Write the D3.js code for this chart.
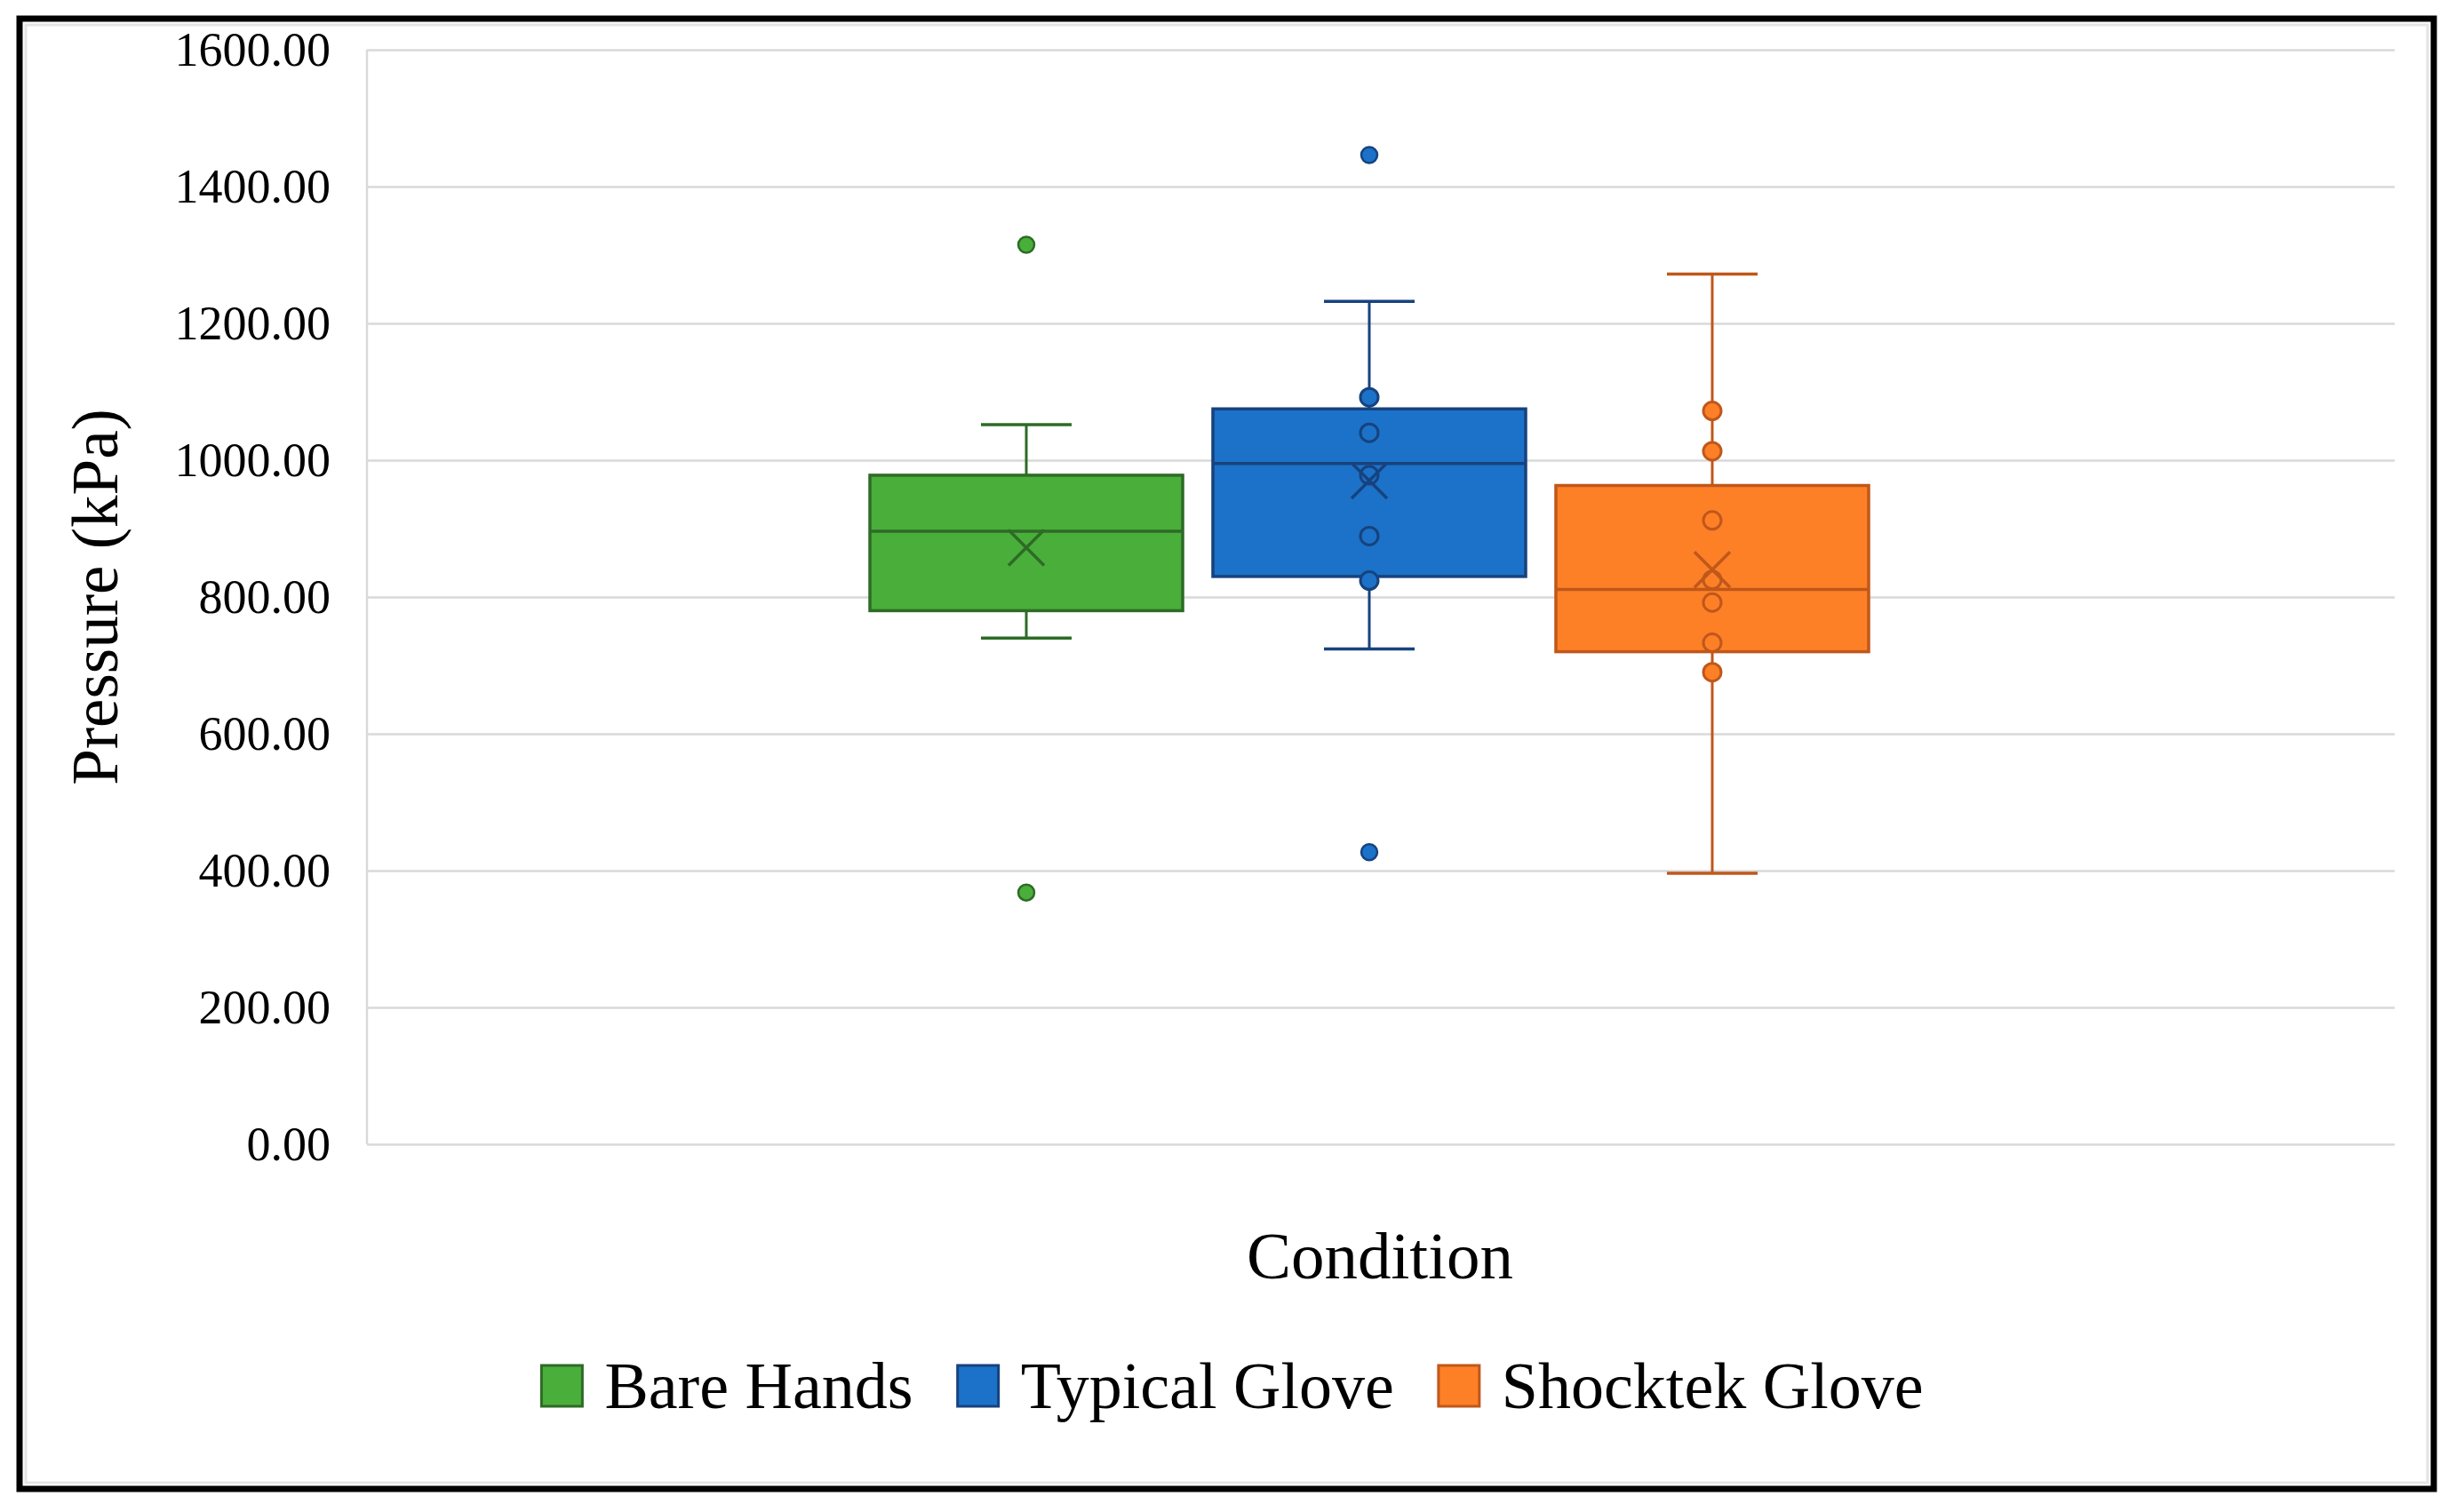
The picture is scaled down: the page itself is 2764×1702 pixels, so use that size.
<!DOCTYPE html>
<html lang="en">
<head>
<meta charset="utf-8">
<title>Pressure by Condition</title>
<script src="https://d3js.org/d3.v7.min.js"></script>
<style>
  body { margin: 0; background: #fff; }
  text { font-family: "Liberation Serif", "Times New Roman", serif; fill: #000; }
</style>
</head>
<body>
<div id="chart"></div>
<script>
// values (kPa)
var series = ["Bare Hands", "Typical Glove", "Shocktek Glove"];
var whiskerLow  = [740, 724, 396];
var q1          = [780, 830, 720];
var median      = [896, 995, 811];
var q3          = [978, 1075, 963];
var whiskerHigh = [1052, 1232, 1272];
var means       = [872, 970, 840];
var outliers    = [[1315, 368], [1446, 427], []];
var innerPoints = [[], [1092, 1040, 978, 889, 824], [1072, 1013, 912, 825, 792, 733, 690]];
var yTicks = [0, 200, 400, 600, 800, 1000, 1200, 1400, 1600];

var fills   = ["#4aae3b", "#1b72c8", "#fd8027"];
var darks   = ["#2d6b26", "#17427e", "#c0571a"];

var W = 2764, H = 1702;
var plot = {left: 413, right: 2695, top: 56, bottom: 1288};

var svg = d3.select("#chart").append("svg")
  .attr("width", W).attr("height", H);

svg.append("rect").attr("width", W).attr("height", H).attr("fill", "#fff");

// frame
svg.append("rect")
  .attr("x", 29).attr("y", 28).attr("width", 2703).attr("height", 1641)
  .attr("fill", "none").attr("stroke", "#e4e4e4").attr("stroke-width", 3);
svg.append("rect")
  .attr("x", 22).attr("y", 21).attr("width", 2717).attr("height", 1655)
  .attr("fill", "none").attr("stroke", "#000").attr("stroke-width", 7);

var y = d3.scaleLinear().domain([0, 1600]).range([plot.bottom, plot.top]);

// series sit side by side in the single category
var x = d3.scaleBand().domain(series).range([979, 2103]).paddingInner(0.088);

// y axis with gridlines
var yAxis = svg.append("g")
  .attr("transform", "translate(" + plot.left + ",0)")
  .call(d3.axisLeft(y).tickValues(yTicks).tickFormat(d3.format(".2f"))
    .tickSize(-(plot.right - plot.left)).tickPadding(41));
yAxis.select(".domain").attr("stroke", "#d9d9d9").attr("stroke-width", 2.5)
  .attr("d", "M0," + plot.top + "V" + plot.bottom);
yAxis.selectAll(".tick line").attr("stroke", "#d9d9d9").attr("stroke-width", 2.5);
yAxis.selectAll(".tick text")
  .style("font-family", "'Liberation Serif', serif")
  .style("font-size", "54px").attr("fill", "#000");

// axis titles
svg.append("text")
  .attr("transform", "translate(106," + ((plot.top + plot.bottom) / 2) + ") rotate(-90)")
  .attr("text-anchor", "middle").attr("dy", "0.35em")
  .style("font-size", "73px")
  .text("Pressure (kPa)");

svg.append("text")
  .attr("x", 1553).attr("y", 1439)
  .attr("text-anchor", "middle")
  .style("font-size", "75px")
  .text("Condition");

// boxes
var capHalf = 51;
series.forEach(function (s, i) {
  var g = svg.append("g");
  var cx = x(s) + x.bandwidth() / 2;

  // whiskers
  g.append("line").attr("x1", cx).attr("x2", cx)
    .attr("y1", y(q3[i])).attr("y2", y(whiskerHigh[i]))
    .attr("stroke", darks[i]).attr("stroke-width", 3);
  g.append("line").attr("x1", cx).attr("x2", cx)
    .attr("y1", y(q1[i])).attr("y2", y(whiskerLow[i]))
    .attr("stroke", darks[i]).attr("stroke-width", 3);
  [whiskerHigh[i], whiskerLow[i]].forEach(function (v) {
    g.append("line").attr("x1", cx - capHalf).attr("x2", cx + capHalf)
      .attr("y1", y(v)).attr("y2", y(v))
      .attr("stroke", darks[i]).attr("stroke-width", 3.5);
  });

  // box
  g.append("rect")
    .attr("x", x(s)).attr("width", x.bandwidth())
    .attr("y", y(q3[i])).attr("height", y(q1[i]) - y(q3[i]))
    .attr("fill", fills[i]).attr("stroke", darks[i]).attr("stroke-width", 3.5);
  g.append("line").attr("x1", x(s)).attr("x2", x(s) + x.bandwidth())
    .attr("y1", y(median[i])).attr("y2", y(median[i]))
    .attr("stroke", darks[i]).attr("stroke-width", 3.5);

  // inner points
  g.selectAll("circle.inner").data(innerPoints[i]).enter().append("circle")
    .attr("class", "inner")
    .attr("cx", cx).attr("cy", function (d) { return y(d); })
    .attr("r", 10)
    .attr("fill", fills[i]).attr("stroke", darks[i]).attr("stroke-width", 3);

  // outliers
  g.selectAll("circle.out").data(outliers[i]).enter().append("circle")
    .attr("class", "out")
    .attr("cx", cx).attr("cy", function (d) { return y(d); })
    .attr("r", 9)
    .attr("fill", fills[i]).attr("stroke", darks[i]).attr("stroke-width", 2.5);

  // mean marker
  var my = y(means[i]), m = 20;
  g.append("path")
    .attr("d", "M" + (cx - m) + "," + (my - m) + "L" + (cx + m) + "," + (my + m) +
               "M" + (cx - m) + "," + (my + m) + "L" + (cx + m) + "," + (my - m))
    .attr("stroke", darks[i]).attr("stroke-width", 3.5).attr("fill", "none");
});

// legend
var legend = svg.append("g");
var lx = 0, sw = 46, gap = 25, itemGap = 50;
series.forEach(function (s, i) {
  var item = legend.append("g").attr("transform", "translate(" + lx + ",0)");
  item.append("rect").attr("x", 0).attr("y", -sw / 2).attr("width", sw).attr("height", sw)
    .attr("fill", fills[i]).attr("stroke", darks[i]).attr("stroke-width", 3);
  var t = item.append("text").attr("x", sw + gap).attr("y", 25)
    .style("font-size", "74px").text(s);
  lx += sw + gap + t.node().getComputedTextLength() + itemGap;
});
lx -= itemGap;
legend.attr("transform", "translate(" + (1387 - lx / 2) + ",1560)");
</script>
</body>
</html>
